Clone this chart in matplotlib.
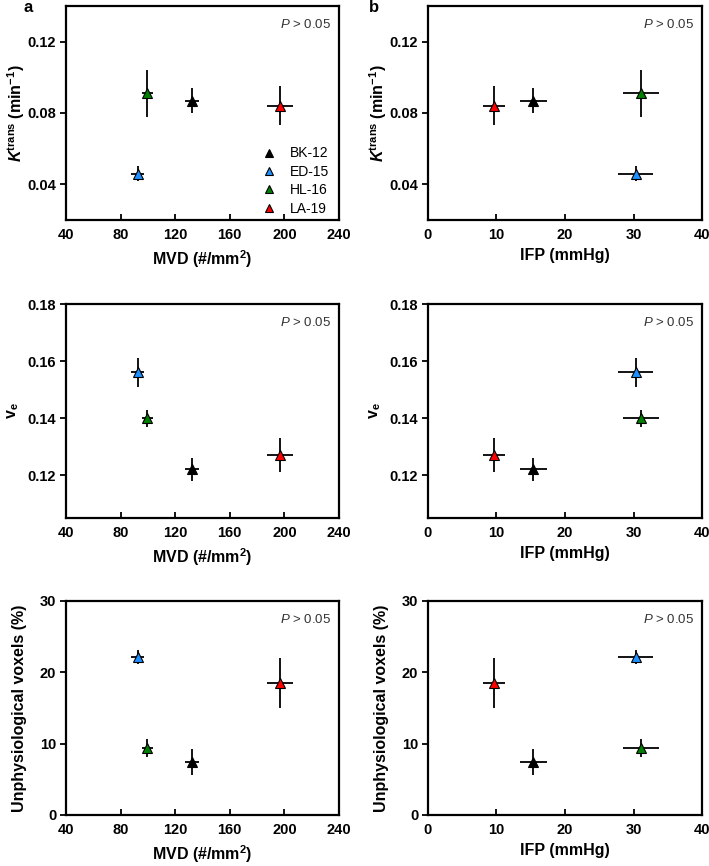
import matplotlib.pyplot as plt
import numpy as np

plt.rcParams['font.family'] = ['Liberation Sans', 'DejaVu Sans']
plt.rcParams['mathtext.fontset'] = 'custom'
plt.rcParams['mathtext.rm'] = 'Liberation Sans'
plt.rcParams['mathtext.it'] = 'Liberation Sans:italic'
plt.rcParams['mathtext.bf'] = 'Liberation Sans:bold'
plt.rcParams['mathtext.bfit'] = 'Liberation Sans:bold:italic'

# Tumour lines
lines = ["BK-12", "ED-15", "HL-16", "LA-19"]
colors = ["#000000", "#1E90FF", "#008000", "#FF0000"]

# x variables (mean, error)
mvd = [132.5, 92.5, 99.5, 196.5]
mvd_err = [5.0, 5.0, 4.0, 9.5]
ifp = [15.4, 30.3, 31.1, 9.6]
ifp_err = [2.0, 2.5, 2.6, 1.6]

# y variables (mean, error)
ktrans = [0.087, 0.046, 0.091, 0.084]
ktrans_err = [0.007, 0.004, 0.013, 0.011]
ve = [0.122, 0.156, 0.140, 0.127]
ve_err = [0.004, 0.005, 0.003, 0.006]
unphys = [7.4, 22.1, 9.4, 18.5]
unphys_err = [1.85, 1.0, 1.2, 3.5]

W, H = 709, 866
fig = plt.figure(figsize=(W / 100, H / 100), dpi=100)


def make_ax(left, right, top, bottom):
    return fig.add_axes([left / W, 1 - bottom / H, (right - left) / W, (bottom - top) / H])


rows = [
    (6, 220, ktrans, ktrans_err, (0.02, 0.14), [0.04, 0.08, 0.12], ["0.04", "0.08", "0.12"],
     r"$\mathbfit{K}^{\mathbf{trans}}$ (min$^{\mathbf{-1}}$)", 0),
    (304, 518, ve, ve_err, (0.105, 0.18), [0.12, 0.14, 0.16, 0.18], ["0.12", "0.14", "0.16", "0.18"],
     r"$\mathbf{v}_{\mathbf{e}}$", 5),
    (601, 815, unphys, unphys_err, (0, 30), [0, 10, 20, 30], ["0", "10", "20", "30"],
     "Unphysiological voxels (%)", 9),
]
cols = [
    (66, 339, mvd, mvd_err, (40, 240), [40, 80, 120, 160, 200, 240], r"MVD (#/mm$^\mathbf{2}$)"),
    (428, 702, ifp, ifp_err, (0, 40), [0, 10, 20, 30, 40], "IFP (mmHg)"),
]

for ri, (top, bottom, yv, ye, ylim, yticks, ytl, ylab, ypad) in enumerate(rows):
    for ci, (left, right, xv, xe, xlim, xticks, xlab) in enumerate(cols):
        ax = make_ax(left, right, top, bottom)
        for i in range(len(lines)):
            ax.errorbar(xv[i], yv[i], xerr=xe[i], yerr=ye[i], fmt='none',
                        ecolor='black', elinewidth=1.3, capsize=0, zorder=2)
            ax.plot(xv[i], yv[i], marker='^', ms=7.5, color=colors[i],
                    mec='black', mew=0.8, ls='none', zorder=3,
                    label=lines[i])
        ax.set_xlim(xlim)
        ax.set_ylim(ylim)
        ax.set_xticks(xticks)
        ax.set_yticks(yticks)
        ax.set_yticklabels(ytl)
        for sp in ax.spines.values():
            sp.set_linewidth(1.6)
        ax.tick_params(axis='y', direction='out', length=4, width=1.3, labelsize=10.5, pad=3)
        ax.tick_params(axis='x', direction='in', length=4, width=1.3, labelsize=10.5, pad=6)
        for lbl in ax.get_xticklabels() + ax.get_yticklabels():
            lbl.set_fontweight('bold')
        ax.set_xlabel(xlab, fontsize=11.5, fontweight='bold', labelpad=4)
        ax.set_ylabel(ylab, fontsize=11.5, fontweight='bold', labelpad=ypad)
        ax.text(0.97, 0.945, r"$\it{P}$ > 0.05", transform=ax.transAxes,
                ha='right', va='top', fontsize=9.5, color='#333333')
        if ri == 0 and ci == 0:
            ax.legend(loc='lower right', bbox_to_anchor=(0.965, 0.02), frameon=False,
                      fontsize=10, handletextpad=0.9, labelspacing=0.32, borderpad=0,
                      borderaxespad=0, markerscale=0.75, handlelength=1.2)

fig.text(28 / W, 1 - 7 / H, "a", fontsize=12, fontweight='bold', ha='center', va='center')
fig.text(374 / W, 1 - 7 / H, "b", fontsize=12, fontweight='bold', ha='center', va='center')

fig.savefig("out.png", dpi=100)
